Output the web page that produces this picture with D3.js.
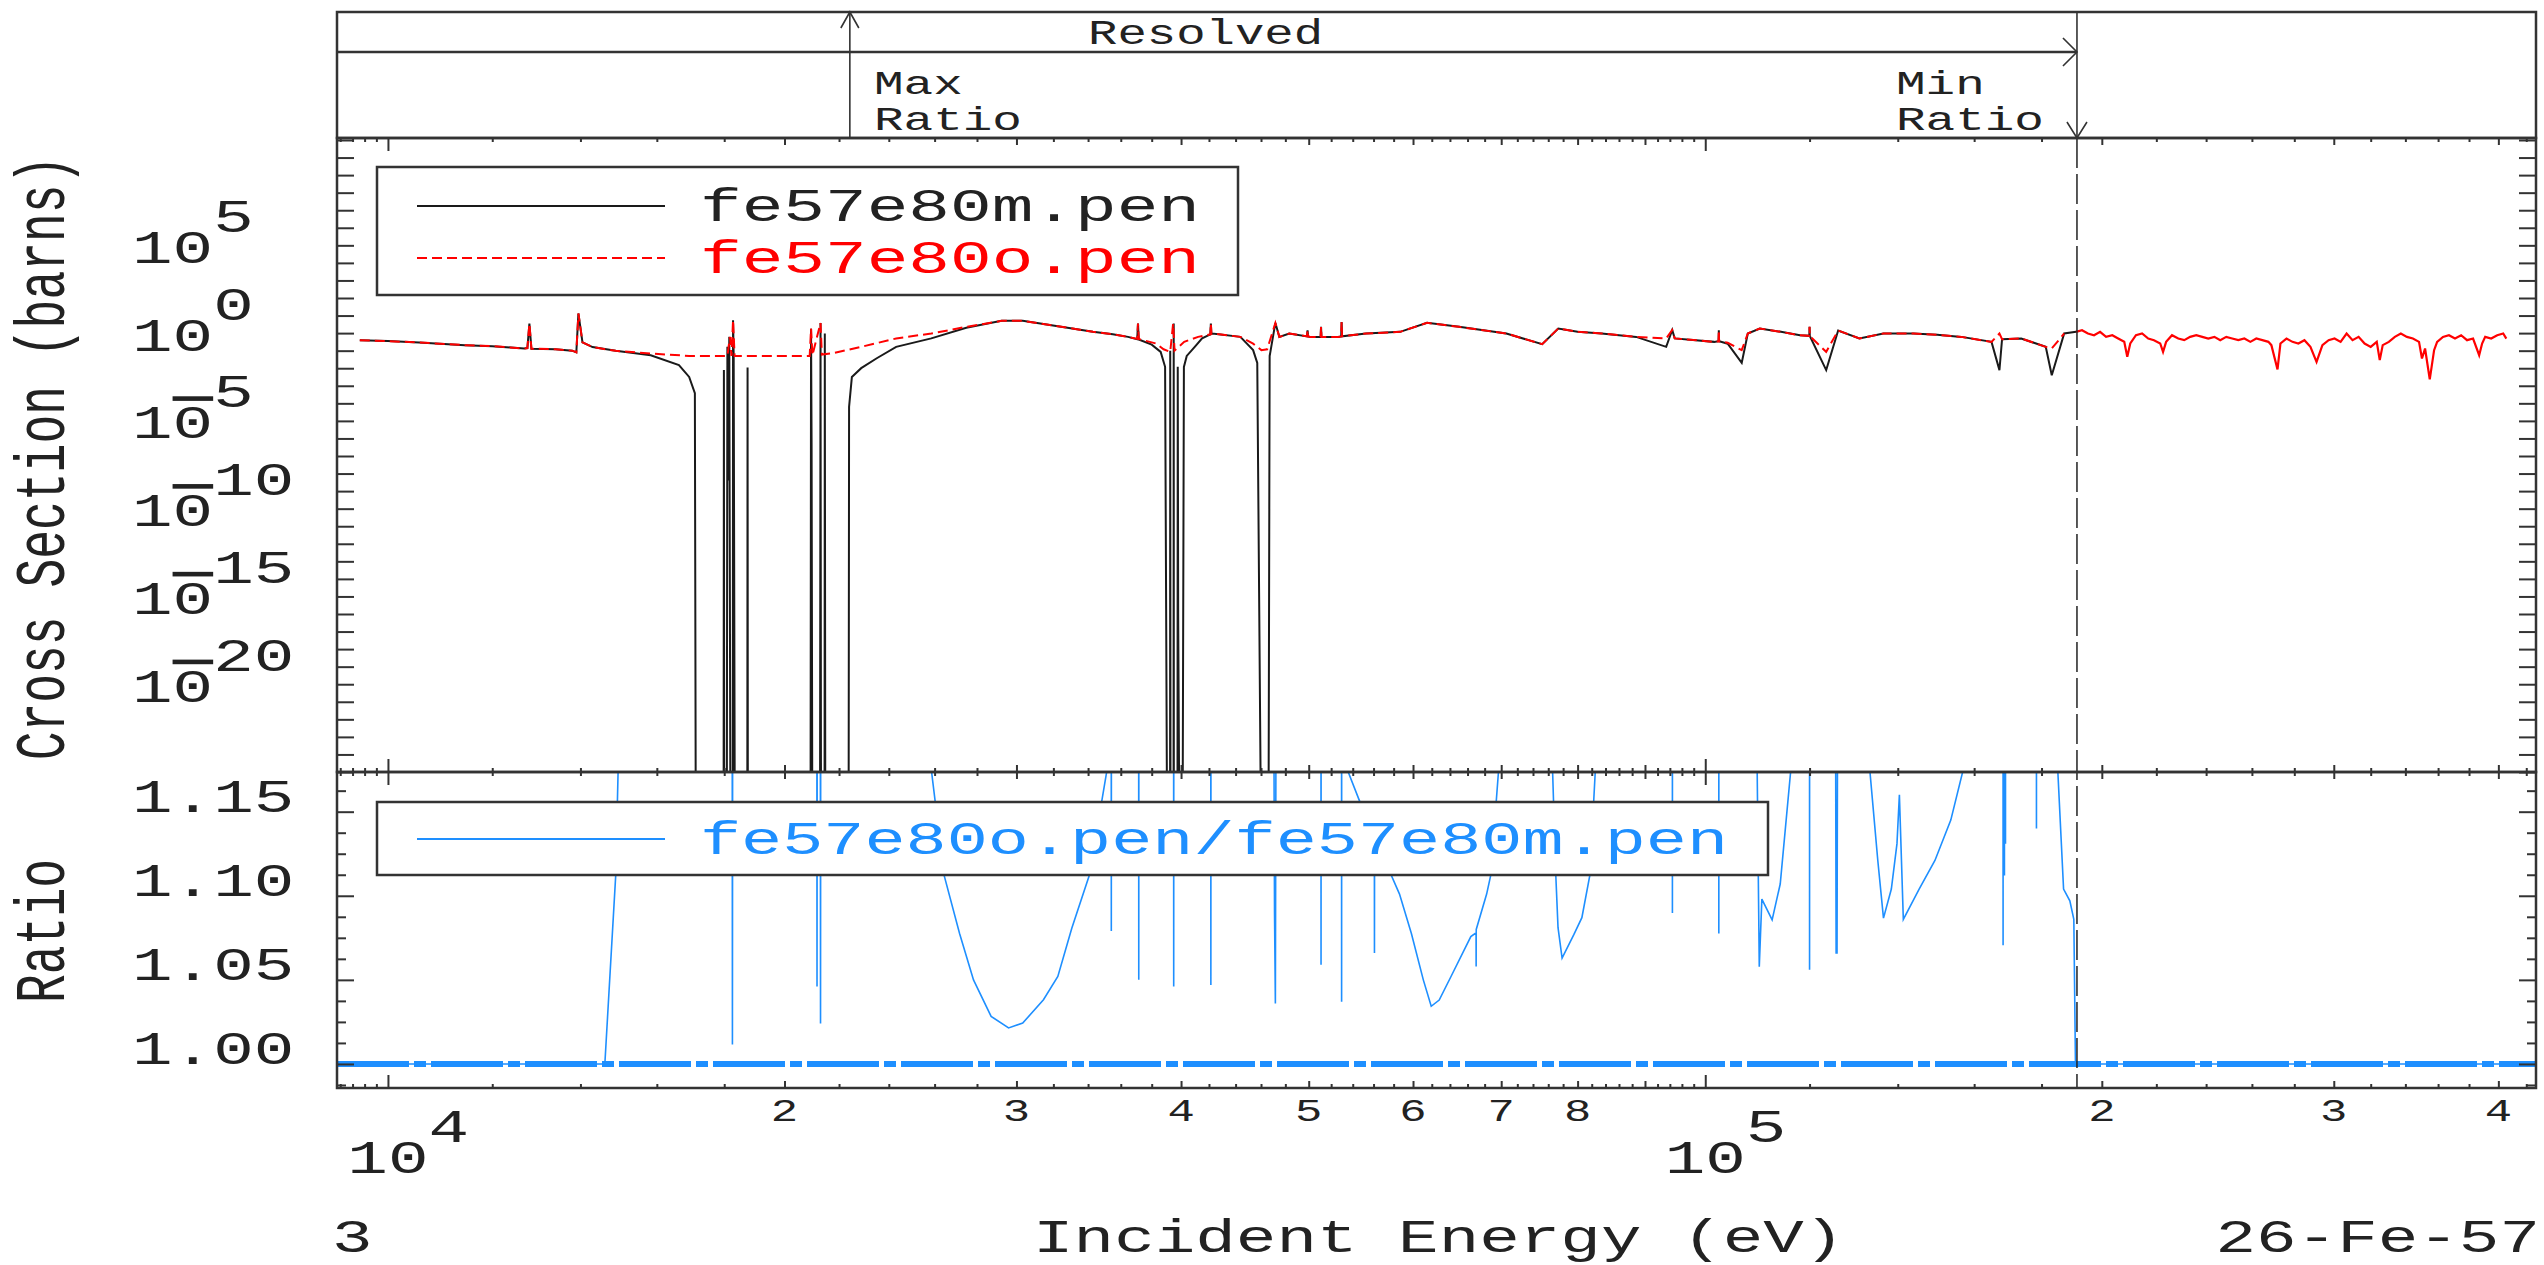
<!DOCTYPE html>
<html>
<head>
<meta charset="utf-8">
<script src="https://cdn.jsdelivr.net/npm/d3@7"></script>
<style>
  body { margin: 0; background: #fff; }
  svg text { font-family: "Liberation Mono", "DejaVu Sans Mono", monospace; }
</style>
</head>
<body>
<svg id="chart" width="2544" height="1265"></svg>
<script>
// ---- data: [energy eV, cross section barns] ----
// 1e-30 = curve runs off the bottom of the plot
const OFF = 1e-30;

const redPts = [
  [9520,3.96],[10000,3.5],[10560,2.93],[11440,2.06],[12000,1.8],[12690,1.33],[12760,1.4],[12805,35],[12850,1.3],
  [13400,1.2],[13800,1.0],[13900,0.8],[13950,131],[14050,3.0],[14300,1.6],[14890,0.975],[15830,0.69],[16930,0.5],
  [17500,0.49],[18100,0.49],[18180,6.1],[18230,0.5],[18280,54.6],[18330,0.49],[20700,0.49],[20900,0.5],[20950,18],
  [21000,0.55],[21300,38],[21350,0.6],[21770,0.72],[22870,1.65],[24310,4.96],[25850,9.5],[27480,22.7],[29230,49.8],
  [30330,49.8],[32250,24.8],[34290,11.8],[35500,8.5],[36460,6.1],[37050,4.7],[37100,35],[37150,4.6],[38290,2.57],
  [38800,1.2],[39250,0.855],[39450,35],[39550,1.0],[40220,3.17],[41210,6.1],[42100,8.5],[42140,35],[42180,9],
  [42240,9.5],[44370,6.1],[45370,2.5],[46030,1.07],[46500,1.2],[47170,38],[47500,6],[48330,9.5],[49850,6.5],
  [49900,14.6],[49950,6.4],[50130,6.1],[51050,6.0],[51090,22.7],[51130,6.0],[52640,6.1],[52920,6.5],[52960,43],
  [53000,6.6],[55270,9.5],[58670,11.8],[61490,38.3],[65030,22.7],[70630,9.5],[75200,2.35],[77340,18.4],[80000,12],
  [83430,9.5],[88620,6.1],[93400,4.96],[94390,15],[94800,5],[101580,3.17],[102350,3.5],[102400,14.7],[102450,3.4],
  [104000,2.8],[106580,1.07],[107720,9.5],[110000,18.4],[114140,11.8],[118000,7.5],[119950,7],[120000,22.7],
  [120050,6.8],[123540,0.86],[126150,14],[130920,4.96],[136530,9.5],[143880,9.5],[150000,8],[156480,6.1],
  [164930,3.17],[167230,9.5],[168000,4.5],[173720,4.96],[181330,1.65],[183250,1.33],[187270,9.5]
];

const blackPts = [
  [9520,3.96],[10000,3.5],[10560,2.93],[11440,2.06],[12000,1.8],[12690,1.33],[12760,1.4],[12805,35],[12850,1.3],
  [13400,1.2],[13800,1.0],[13900,0.8],[13950,131],[14050,3.0],[14300,1.6],[14890,0.975],[15830,0.55],[16630,0.149],
  [16930,0.032],[17100,0.0038],[17130,OFF],
  [17980,OFF],[17990,0.078],[18000,OFF],
  [18080,OFF],[18100,1.65],[18130,4e-8],[18160,6.1],[18200,OFF],
  [18270,OFF],[18280,54.6],[18300,0.5],[18340,OFF],
  [18740,OFF],[18750,0.11],[18760,OFF],
  [20930,OFF],[20950,18],[20970,4.2e-6],[21000,OFF],
  [21280,OFF],[21300,38],[21320,OFF],
  [21450,OFF],[21460,9.5],[21480,OFF],
  [22370,OFF],[22390,6.3e-4],[22500,0.032],[22870,0.101],[23500,0.37],[24310,1.65],[25850,5.0],[27480,20],
  [29230,49.8],[30330,49.8],[32250,24.8],[34290,11.8],[35500,8.5],[36460,6.1],[37050,4.5],[37100,35],[37150,4.3],
  [38000,2.2],[38600,0.855],[38900,0.12],[39050,OFF],
  [39240,OFF],[39250,1.0],[39270,OFF],
  [39480,OFF],[39490,35],[39500,OFF],
  [39750,OFF],[39770,0.12],[39800,1e-15],[39900,OFF],
  [40100,OFF],[40200,0.119],[40400,0.5],[40970,1.65],[41500,5],[42100,8.5],[42140,35],[42180,9],[42240,9.5],
  [44370,6.1],[45370,1.07],[45700,0.2],[46030,OFF],[46600,OFF],[46700,0.5],[46760,0.85],[47170,38],[47500,6],
  [48330,9.5],[49850,6.5],[49900,14.6],[49950,6.4],[50130,6.1],[51050,6.0],[51090,22.7],[51130,6.0],[52640,6.1],
  [52920,6.5],[52960,43],[53000,6.6],[55270,9.5],[58670,11.8],[61490,38.3],[65030,22.7],[70630,9.5],[75200,2.35],
  [77340,18.4],[80000,12],[83430,9.5],[88620,6.1],[93400,1.65],[94390,15],[94800,5],[101580,3.17],[102350,3.5],
  [102400,14.7],[102450,3.4],[104000,2.5],[106580,0.20],[107720,9.5],[110000,18.4],[114140,11.8],[118000,7.5],
  [119950,7],[120000,22.7],[120050,6.8],[123540,0.078],[126150,14],[130920,4.96],[136530,9.5],[143880,9.5],
  [150000,8],[156480,6.1],[164930,3.17],[167230,0.078],[168000,4.5],[173720,4.96],[181330,1.65],[183250,0.04],
  [187270,9.5],[191200,11.8]
];

// unresolved range (only the red curve shows here)
const tailPts = [
  [191200,11.8],[193200,14.7],[195200,9.5],[197300,7.6],[199400,11.8],[201500,6.1],[203700,7.6],[205800,4.9],
  [208000,3.18],[209100,0.45],[210200,2.56],[212300,7.6],[214600,9.5],[216900,4.9],[219100,3.96],[221500,2.56],
  [222600,0.86],[223800,3.18],[226100,7.6],[228600,4.9],[231000,3.96],[233400,6.1],[235900,7.6],[238400,6.1],
  [240900,4.9],[243500,6.1],[246000,3.96],[248600,6.1],[251200,4.9],[253900,3.96],[256600,4.9],[259300,3.18],
  [262000,4.9],[264800,3.96],[267600,3.18],[269000,2.06],[271900,0.085],[273300,2.56],[276200,4.9],[279100,3.18],
  [282000,2.56],[285000,3.96],[288000,1.65],[291100,0.23],[294100,2.06],[297300,3.96],[300400,4.9],[303600,3.18],
  [306800,9.5],[310000,3.96],[313300,6.1],[316600,2.56],[320000,1.65],[323400,3.18],[325100,0.29],[326800,2.06],
  [330300,3.18],[333800,6.1],[337300,9.5],[340900,6.1],[344500,4.9],[348200,3.18],[350000,0.36],[351900,1.33],
  [354800,0.023],[357500,1.07],[359400,3.18],[363100,6.1],[366900,7.6],[370800,4.9],[374800,7.6],[378700,3.96],
  [382700,4.9],[386800,0.55],[388800,2.56],[390900,6.1],[395000,4.9],[399200,7.6],[403400,9.5],[405600,4.9]
];

// ratio o/m, 1.3 = off the top of the panel
const HI = 1.3;
const ratioPts = [
  [9520,1.0],[14610,1.0],[14890,1.112],[15080,HI],
  [18250,HI],[18260,1.0115],[18270,HI],
  [21160,HI],[21170,1.046],[21180,HI],
  [21290,HI],[21300,1.024],[21310,HI],
  [25800,HI],[25860,1.174],[26440,1.112],[27160,1.0776],[27830,1.050],[28700,1.0283],[29590,1.0214],[30330,1.0243],
  [31450,1.0382],[32250,1.052],[33050,1.0808],[34070,1.112],[35130,1.174],[35200,HI],
  [35400,HI],[35410,1.079],[35420,HI],
  [37140,HI],[37150,1.050],[37160,HI],
  [39480,HI],[39490,1.046],[39500,HI],
  [42130,HI],[42140,1.047],[42150,HI],
  [47000,HI],[47100,1.09],[47170,1.036],[47250,HI],
  [51080,HI],[51090,1.059],[51100,HI],
  [52950,HI],[52960,1.037],[52970,HI],
  [53500,HI],[53550,1.174],[54670,1.156],[56080,1.13],[56090,1.066],[56100,1.128],[57780,1.112],[58600,1.101],
  [59830,1.0776],[61090,1.050],[61940,1.0343],[62810,1.038],[64120,1.052],[66380,1.0757],[66990,1.078],
  [67000,1.058],[67010,1.08],[68240,1.101],[68720,1.112],[69670,1.174],[69800,HI],
  [76500,HI],[76580,1.174],[77010,1.112],[77310,1.081],[77860,1.063],[79490,1.077],[80600,1.087],[81720,1.112],
  [82510,1.174],[82600,HI],
  [94410,HI],[94420,1.0897],[94430,HI],
  [102390,HI],[102400,1.0776],[102410,HI],
  [109400,HI],[109500,1.174],[109900,1.0578],[110400,1.098],[112400,1.0857],[114000,1.107],[116100,1.174],[116200,HI],
  [119990,HI],[120000,1.056],[120010,HI],
  [125500,HI],[125700,1.066],[125900,1.066],[126100,HI],
  [133300,HI],[133350,1.174],[135200,1.121],[136550,1.0867],[138440,1.104],[139810,1.131],[140400,1.16],
  [141370,1.086],[145330,1.104],[149400,1.121],[153600,1.145],[156860,1.174],[157000,HI],
  [168290,HI],[168300,1.0706],[168310,HI],
  [168690,HI],[168700,1.112],[168710,HI],
  [169000,HI],[169010,1.131],[169020,HI],
  [178400,HI],[178410,1.14],[178420,HI],
  [185100,HI],[185200,1.174],[187070,1.104],[189130,1.097],[190450,1.086],[191000,1.0],[405600,1.0]
];

// axis labels
const yExps = [5, 0, -5, -10, -15, -20];
const ratioLabels = [1.00, 1.05, 1.10, 1.15];
const xDigitTicks = [[2e4,'2'],[3e4,'3'],[4e4,'4'],[5e4,'5'],[6e4,'6'],[7e4,'7'],[8e4,'8'],[2e5,'2'],[3e5,'3'],[4e5,'4']];
const xDecadeTicks = [[1e4,'4'],[1e5,'5']];
const maxRatioE = 22420, minRatioE = 191500;

// ---- layout ----
const pL = 337, pR = 2536, hTop = 12, hMid = 52, pTop = 138, pMid = 772, pBot = 1088;
const SX = 1.47;   // the plot font is stretched horizontally
const FS = 46;
const cell = 0.6 * FS;  // monospace advance before stretching

const x = d3.scaleLog().domain([9148, 427200]).range([pL, pR]);
const y = d3.scaleLog().domain([1e-24, 1.3e12]).range([pMid, pTop]);
const yr = d3.scaleLinear().domain([0.9857, 1.1736]).range([pBot, pMid]);

const svg = d3.select('#chart');

function label(px, py, str, fs, sx, anchor, color) {
  return svg.append('text')
    .attr('transform', `translate(${px},${py}) scale(${sx},1)`)
    .attr('text-anchor', anchor || 'start')
    .attr('font-size', fs)
    .attr('fill', color || '#222')
    .text(str);
}

// "10" with a raised exponent; a negative sign shows as a bar over the 0, like the original
function powLabel(px, py, exp) {
  const t = svg.append('text')
    .attr('transform', `translate(${px},${py}) scale(${SX},1)`)
    .attr('font-size', FS).attr('fill', '#222');
  t.append('tspan').text('1');
  const zero = t.append('tspan').text('0');
  if (exp < 0) zero.style('text-decoration', 'overline');
  t.append('tspan').attr('dy', -31).text(String(Math.abs(exp)));
}

function tickRow(axisFn, scale, vals, len, tx, ty) {
  const g = svg.append('g')
    .attr('transform', `translate(${tx},${ty})`)
    .call(axisFn(scale).tickValues(vals).tickSize(len).tickSizeOuter(0).tickFormat(''));
  g.select('.domain').remove();
  g.selectAll('line').attr('stroke', '#333').attr('stroke-width', 2);
}

// clip paths
const defs = svg.append('defs');
defs.append('clipPath').attr('id', 'clipTop')
  .append('rect').attr('x', pL).attr('y', pTop).attr('width', pR - pL).attr('height', pMid - pTop);
defs.append('clipPath').attr('id', 'clipBot')
  .append('rect').attr('x', pL).attr('y', pMid).attr('width', pR - pL).attr('height', pBot - pMid);

// ---- upper panel curves ----
const line = d3.line().x(d => x(d[0])).y(d => y(d[1]));
const topG = svg.append('g').attr('clip-path', 'url(#clipTop)');
topG.append('path').datum(blackPts)
  .attr('d', line).attr('fill', 'none').attr('stroke', '#1a1a1a').attr('stroke-width', 2);
topG.append('path').datum(redPts)
  .attr('d', line).attr('fill', 'none').attr('stroke', '#ff0000').attr('stroke-width', 2)
  .attr('stroke-dasharray', '10,5');
topG.append('path').datum(tailPts)
  .attr('d', line).attr('fill', 'none').attr('stroke', '#ff0000').attr('stroke-width', 2.2);

// ---- lower panel ----
const rline = d3.line().x(d => x(d[0])).y(d => yr(d[1]));
const botG = svg.append('g').attr('clip-path', 'url(#clipBot)');
botG.append('path').datum(ratioPts)
  .attr('d', rline).attr('fill', 'none').attr('stroke', '#1e8fff').attr('stroke-width', 1.6);
botG.append('line')
  .attr('x1', pL).attr('x2', pR).attr('y1', yr(1)).attr('y2', yr(1))
  .attr('stroke', '#1e8fff').attr('stroke-width', 6).attr('stroke-dasharray', '72,5,12,5');

// min ratio marker through both panels
svg.append('line')
  .attr('x1', x(minRatioE)).attr('x2', x(minRatioE)).attr('y1', pTop).attr('y2', pBot)
  .attr('stroke', '#222').attr('stroke-width', 1.5).attr('stroke-dasharray', '30,6');

// ---- ticks ----
const decades = d3.range(-24, 13).map(p => Math.pow(10, p));
tickRow(d3.axisLeft, y, decades, -17, pL, 0);
tickRow(d3.axisRight, y, decades, -17, pR, 0);

const rMajor = [1.00, 1.05, 1.10, 1.15];
const rMinor = d3.range(0, 15).map(i => 0.9875 + i * 0.0125).filter(v => rMajor.every(m => Math.abs(m - v) > 1e-6));
tickRow(d3.axisLeft, yr, rMajor, -17, pL, 0);
tickRow(d3.axisRight, yr, rMajor, -17, pR, 0);
tickRow(d3.axisLeft, yr, rMinor, -9, pL, 0);
tickRow(d3.axisRight, yr, rMinor, -9, pR, 0);

const xDec = [1e4, 1e5];
const xInt = [2e4,3e4,4e4,5e4,6e4,7e4,8e4,9e4,2e5,3e5,4e5];
const xMinor = [];
[1e3, 1e4, 1e5].forEach(d => {
  for (let m = 1.2; m < 9.9; m += 0.2) {
    const v = +(m * d).toPrecision(6);
    if (Math.abs(m - Math.round(m)) > 0.01 && v >= 9148 && v <= 427200) xMinor.push(v);
  }
});
[[pTop, d3.axisTop], [pMid, d3.axisBottom], [pMid, d3.axisTop], [pBot, d3.axisBottom]].forEach(([ty, fn]) => {
  tickRow(fn, x, xDec, -13, 0, ty);
  tickRow(fn, x, xInt, -7, 0, ty);
  tickRow(fn, x, xMinor, -4, 0, ty);
});

// ---- frames ----
[[hTop, pTop], [pTop, pMid], [pMid, pBot]].forEach(([a, b]) => {
  svg.append('rect').attr('x', pL).attr('y', a).attr('width', pR - pL).attr('height', b - a)
    .attr('fill', 'none').attr('stroke', '#333').attr('stroke-width', 2.5);
});

// ---- header: resolved range arrows ----
const xMax = x(maxRatioE), xMin = x(minRatioE);
const hdr = svg.append('g').attr('fill', 'none').attr('stroke', '#333').attr('stroke-width', 1.6);
hdr.append('line').attr('x1', xMax).attr('x2', xMax).attr('y1', hTop).attr('y2', pTop);
hdr.append('polyline').attr('points', `${xMax - 9},${hTop + 16} ${xMax},${hTop} ${xMax + 9},${hTop + 16}`);
hdr.append('line').attr('x1', pL).attr('x2', xMin).attr('y1', hMid).attr('y2', hMid).attr('stroke-width', 2.5);
hdr.append('polyline').attr('points', `${xMin - 14},${hMid - 14} ${xMin},${hMid} ${xMin - 14},${hMid + 14}`);
hdr.append('line').attr('x1', xMin).attr('x2', xMin).attr('y1', hTop).attr('y2', pTop);
hdr.append('polyline').attr('points', `${xMin - 10},${pTop - 16} ${xMin},${pTop} ${xMin + 10},${pTop - 16}`);

label(1088, 44, 'Resolved', 35, 1.4);
label(874, 94, 'Max', 34, 1.45);
label(874, 130, 'Ratio', 34, 1.45);
label(1896, 94, 'Min', 34, 1.45);
label(1896, 130, 'Ratio', 34, 1.45);

// ---- legends ----
svg.append('rect').attr('x', 377).attr('y', 167).attr('width', 861).attr('height', 128)
  .attr('fill', '#fff').attr('stroke', '#333').attr('stroke-width', 2.5);
svg.append('line').attr('x1', 417).attr('x2', 665).attr('y1', 206).attr('y2', 206)
  .attr('stroke', '#1a1a1a').attr('stroke-width', 2);
svg.append('line').attr('x1', 417).attr('x2', 665).attr('y1', 258).attr('y2', 258)
  .attr('stroke', '#ff0000').attr('stroke-width', 2).attr('stroke-dasharray', '10,5');
label(700, 221, 'fe57e80m.pen', FS, 1.51, 'start', '#222');
label(700, 273, 'fe57e80o.pen', FS, 1.51, 'start', '#ff0000');

svg.append('rect').attr('x', 377).attr('y', 802).attr('width', 1391).attr('height', 73)
  .attr('fill', '#fff').attr('stroke', '#333').attr('stroke-width', 2.5);
svg.append('line').attr('x1', 417).attr('x2', 665).attr('y1', 839).attr('y2', 839)
  .attr('stroke', '#1e8fff').attr('stroke-width', 2);
label(700, 854, 'fe57e80o.pen/fe57e80m.pen', FS, 1.49, 'start', '#1e8fff');

// ---- axis labels ----
yExps.forEach(p => powLabel(132, y(Math.pow(10, p)), p));
ratioLabels.forEach(v => label(132, yr(v), v.toFixed(2), FS, SX));

xDigitTicks.forEach(([v, s]) => label(x(v), 1121, s, 31, SX, 'middle'));
xDecadeTicks.forEach(([v, s]) => powLabel(x(v) - cell * SX, 1173, +s));

svg.append('text')
  .attr('transform', `translate(64,458) scale(${SX},1) rotate(-90)`)
  .attr('text-anchor', 'middle').attr('font-size', 48).attr('fill', '#222')
  .text('Cross Section (barns)');
svg.append('text')
  .attr('transform', `translate(64,931) scale(${SX},1) rotate(-90)`)
  .attr('text-anchor', 'middle').attr('font-size', 48).attr('fill', '#222')
  .text('Ratio');

label(332, 1252, '3', FS, SX);
label(1033, 1252, 'Incident Energy (eV)', FS, SX);
label(2540, 1252, '26-Fe-57', FS, SX, 'end');
</script>
</body>
</html>
